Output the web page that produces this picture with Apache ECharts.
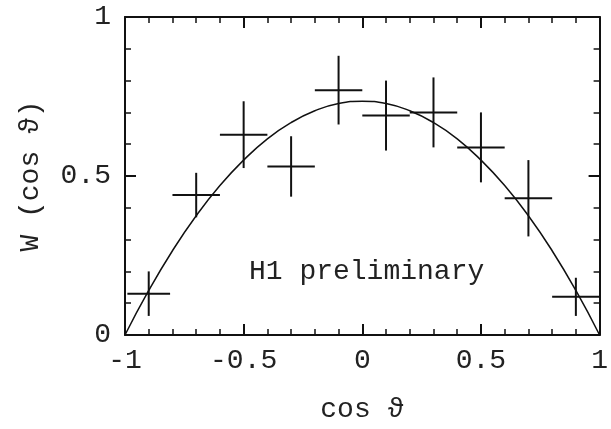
<!DOCTYPE html>
<html>
<head>
<meta charset="utf-8">
<script src="https://cdn.jsdelivr.net/npm/echarts@6/dist/echarts.min.js"></script>
<style>
html,body{margin:0;padding:0;background:#fff;}
#main{width:611px;height:429px;}
</style>
</head>
<body>
<div id="main"></div>
<script>
// measured points (bin centres, values, errors)
var pointX = [-0.9, -0.7, -0.5, -0.3, -0.1, 0.1, 0.3, 0.5, 0.7, 0.9];
var pointY = [0.13, 0.44, 0.63, 0.53, 0.77, 0.69, 0.70, 0.59, 0.43, 0.12];
var errY = [0.07, 0.07, 0.105, 0.095, 0.108, 0.11, 0.11, 0.11, 0.12, 0.06];
var errX = [0.09, 0.1, 0.1, 0.1, 0.1, 0.1, 0.1, 0.1, 0.1, 0.1];
// fitted curve
var curveX = [-1, -0.9, -0.8, -0.7, -0.6, -0.5, -0.4, -0.3, -0.2, -0.1, 0, 0.1, 0.2, 0.3, 0.4, 0.5, 0.6, 0.7, 0.8, 0.9, 1];
var curveY = [0, 0.14, 0.265, 0.375, 0.47, 0.55, 0.617, 0.668, 0.705, 0.728, 0.735, 0.728, 0.705, 0.668, 0.617, 0.55, 0.47, 0.375, 0.265, 0.14, 0];
var xTickLabels = {'-1': '-1', '-0.5': '-0.5', '0': '0', '0.5': '0.5', '1': '1'};

var font = 'Liberation Mono, DejaVu Sans Mono, monospace';
var ink = '#111';

var myChart = echarts.init(document.getElementById('main'));

function axisBase(showLabel) {
    return {
        type: 'value',
        min: -1,
        max: 1,
        interval: 0.5,
        axisLine: {show: true, onZero: false, lineStyle: {color: ink, width: 2}},
        axisTick: {show: true, inside: true, length: 11, lineStyle: {color: ink, width: 2}},
        minorTick: {show: true, splitNumber: 5, length: 6, lineStyle: {color: ink, width: 1.5}},
        splitLine: {show: false},
        axisLabel: {show: showLabel}
    };
}

var xBottom = axisBase(true);
xBottom.position = 'bottom';
xBottom.name = 'cos ϑ';
xBottom.nameLocation = 'middle';
xBottom.nameGap = 61;
xBottom.nameTextStyle = {fontFamily: font, fontSize: 28, color: '#222'};
xBottom.axisLabel = {
    show: true, margin: 12, fontFamily: font, fontSize: 28, color: '#222',
    formatter: function (v) { return xTickLabels[String(v)]; }
};
var xTop = axisBase(false);
xTop.position = 'top';

var yLeft = axisBase(true);
yLeft.min = 0;
yLeft.max = 1;
yLeft.position = 'left';
yLeft.name = 'W (cos ϑ)';
yLeft.nameLocation = 'middle';
yLeft.nameGap = 80;
yLeft.nameRotate = 90;
yLeft.nameTextStyle = {fontFamily: font, fontSize: 28, color: '#222'};
yLeft.axisLabel = {show: true, margin: 14, fontFamily: font, fontSize: 28, color: '#222'};
var yRight = axisBase(false);
yRight.min = 0;
yRight.max = 1;
yRight.position = 'right';

var points = pointX.map(function (x, i) {
    return [x, pointY[i], errY[i], errX[i]];
});
var curve = curveX.map(function (x, i) {
    return [x, curveY[i]];
});

var option = {
    backgroundColor: '#fff',
    animation: false,
    grid: {left: 125, right: 4, top: 17, bottom: 91, containLabel: false},
    xAxis: [xBottom, xTop],
    yAxis: [yLeft, yRight],
    graphic: [{
        type: 'text',
        left: 249,
        top: 258,
        style: {text: 'H1 preliminary', font: '28px ' + font, fill: '#222'}
    }],
    series: [
        {
            type: 'line',
            data: curve,
            smooth: true,
            showSymbol: false,
            lineStyle: {color: ink, width: 1.5}
        },
        {
            type: 'custom',
            data: points,
            renderItem: function (params, api) {
                var x = api.value(0), y = api.value(1), ey = api.value(2), ex = api.value(3);
                var l = api.coord([x - ex, y]);
                var r = api.coord([x + ex, y]);
                var t = api.coord([x, y + ey]);
                var b = api.coord([x, y - ey]);
                var st = {stroke: ink, lineWidth: 2};
                return {
                    type: 'group',
                    children: [
                        {type: 'line', shape: {x1: l[0], y1: l[1], x2: r[0], y2: r[1]}, style: st},
                        {type: 'line', shape: {x1: t[0], y1: t[1], x2: b[0], y2: b[1]}, style: st}
                    ]
                };
            }
        }
    ]
};
myChart.setOption(option);
</script>
</body>
</html>
